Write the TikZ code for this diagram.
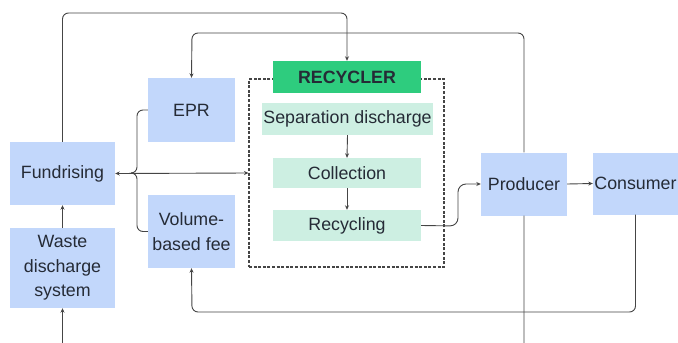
\documentclass[tikz,border=0pt]{standalone}
\usepackage{fontspec}
\setmainfont{Liberation Sans}
\usepackage{tikz}
\usepackage{xcolor}
\usetikzlibrary{arrows.meta}
\usetikzlibrary{positioning}
\definecolor{blueb}{HTML}{C2D7FB}
\definecolor{mint}{HTML}{CDEFE2}
\definecolor{greenb}{HTML}{2ECC7E}
\definecolor{ink}{HTML}{252B36}
\definecolor{wire}{HTML}{454545}
\newcommand*{\yTop}{13}
\newcommand*{\yBot}{352}

\begin{document}
\begin{tikzpicture}[x=1pt,y=-1pt,
  box/.style={rectangle,fill=blueb,text=ink,inner sep=0pt,align=center,font=\fontsize{17.8}{24.5}\selectfont},
  stage/.style={box,fill=mint},
  link/.style={draw=wire,line width=0.9pt,rounded corners=6pt},
  arr/.style={link,-{Stealth[length=4.5pt,width=4pt]}}]
	\useasboundingbox (0,0) rectangle (678,343);
	\clip (0,0) rectangle (678,343);
	% dashed recycler frame
	\node[draw=wire,line width=1.1pt,dash pattern=on 3pt off 1.6pt,minimum width=195pt,minimum height=188pt,inner sep=0pt] (frame) at (346.5,173) {};
	\node[box,minimum width=105pt,minimum height=63pt] (fund) at (62.5,173.5) {Fundrising};
	\node[box,minimum width=105pt,minimum height=80pt] (waste) at (62.5,268) {Waste\\discharge\\system};
	\node[box,minimum width=87pt,minimum height=64pt] (epr) at (191.5,110) {EPR};
	\node[box,minimum width=87pt,minimum height=73pt] (vol) at (191.5,231.5) {Volume-\\based fee};
	\node[box,fill=greenb,minimum width=148pt,minimum height=32pt,font=\fontsize{17.8}{24.5}\selectfont\bfseries] (recy) at (347,77) {RECYCLER};
	\node[stage,minimum width=171pt,minimum height=32pt] (sep) at (347.5,119) {Separation discharge};
	\node[stage,minimum width=148pt,minimum height=30pt] (coll) at (347,173) {Collection};
	\node[stage,minimum width=148pt,minimum height=31pt] (recyc) at (347,225.5) {Recycling};
	\node[box,minimum width=86pt,minimum height=63pt] (prod) at (524,184) {Producer};
	\node[box,minimum width=85pt,minimum height=62pt] (cons) at (635.5,183.5) {Consumer};
	\coordinate (br) at (137,173);
	\coordinate (brl) at (131,173);
	\coordinate (top1) at (347,\yTop);
	\coordinate (top2) at (192,33);
	\coordinate (low1) at (192,312);
	\coordinate (low2) at (524,\yBot);
	\coordinate (bend) at (458,226);
	% links
	\draw[arr] (fund.north) |- (top1) -- (recy.north);
	\draw[arr] (prod.north) |- (top2) -- (epr.north);
	\draw[link,arr,{Stealth[length=4.5pt,width=4pt]}-{Stealth[length=4.5pt,width=4pt]}] (fund.east) -- (frame.west);
	\draw[link] (epr.west) -| (br) -- (brl);
	\draw[link] (vol.west) -| (br) -- (brl);
	\draw[arr] (waste.north) -- (fund.south);
	\draw[arr] (prod.south) -- (low2) -| (waste.south);
	\draw[arr] (cons.south) |- (low1) -- (vol.south);
	\draw[arr,rounded corners=8pt] (recyc.east) -- (bend) |- (prod.west);
	\draw[arr] (prod.east) -- (cons.west);
	\draw[arr] (sep.south) -- (coll.north);
	\draw[arr] (coll.south) -- (recyc.north);
\end{tikzpicture}
\end{document}
